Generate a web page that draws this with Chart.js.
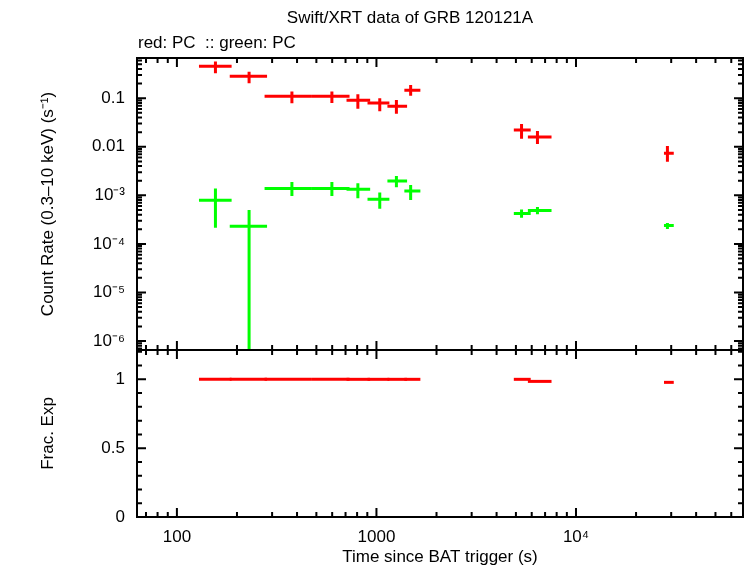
<!DOCTYPE html>
<html>
<head>
<meta charset="utf-8">
<script src="https://cdn.jsdelivr.net/npm/chart.js@4.4.0/dist/chart.umd.min.js"></script>
<style>
  html, body { margin: 0; padding: 0; background: #fff; }
  #wrap { position: relative; width: 746px; height: 568px; }
  #wrap canvas { position: absolute; left: 0; top: 0; }
</style>
</head>
<body>
<div id="wrap">
  <canvas id="rateChart" width="746" height="568"></canvas>
  <canvas id="expChart" width="746" height="568"></canvas>
</div>
<script>
// time bins (s since BAT trigger), shared by both bands
const binTime = [156, 230, 377, 598, 807, 1039, 1259, 1484, 5335, 6410, 28720];
const binLo   = [129, 184, 275, 475, 708, 902, 1135, 1380, 4880, 5740, 27600];
const binHi   = [188, 283, 475, 733, 930, 1161, 1424, 1660, 5930, 7540, 30900];

// red: PC count rate and limits
const redRate = [0.457, 0.284, 0.110, 0.110, 0.091, 0.080, 0.068, 0.146, 0.0222, 0.0159, 0.00734];
const redLo   = [0.327, 0.204, 0.079, 0.080, 0.061, 0.054, 0.048, 0.113, 0.0147, 0.0114, 0.00493];
const redHi   = [0.569, 0.353, 0.137, 0.138, 0.121, 0.100, 0.092, 0.188, 0.0295, 0.0212, 0.0104];

// green: PC count rate and limits (2nd point's lower limit runs off the axis)
const greenRate = [7.9e-4, 2.3e-4, 1.39e-3, 1.39e-3, 1.33e-3, 8.3e-4, 1.97e-3, 1.23e-3, 4.25e-4, 4.9e-4, 2.4e-4];
const greenLo   = [2.15e-4, 1e-9, 9.7e-4, 9.7e-4, 8.7e-4, 5.3e-4, 1.46e-3, 8.0e-4, 3.45e-4, 4.1e-4, 2.02e-4];
const greenHi   = [1.39e-3, 5.0e-4, 1.88e-3, 1.88e-3, 1.77e-3, 1.15e-3, 2.5e-3, 1.63e-3, 5.14e-4, 5.74e-4, 2.69e-4];

// fractional exposure (red bins)
const fracExp = [1, 1, 1, 1, 1, 1, 1, 1, 1, 0.985, 0.978];

// tick labels
const xTickValues = [100, 1000, 10000];
const xTickLabels = ['100', '1000', '10⁴'];
const rateTickValues = [1e-6, 1e-5, 1e-4, 1e-3, 0.01, 0.1];
const rateTickLabels = ['10⁻⁶', '10⁻⁵', '10⁻⁴', '10⁻³', '0.01', '0.1'];
const expTickValues = [0, 0.5, 1];
const expTickLabels = ['0', '0.5', '1'];

const titleText = 'Swift/XRT data of GRB 120121A';
const subText = 'red: PC  :: green: PC';

const FONT = 'Liberation Sans, Arial, Helvetica, sans-serif';

// minor tick positions for log axes
function logMinors(lo, hi) {
  const out = [];
  for (let e = Math.floor(Math.log10(lo)); e <= Math.ceil(Math.log10(hi)); e++) {
    for (let m = 1; m < 10; m++) {
      const v = m * Math.pow(10, e);
      if (v >= lo && v <= hi) out.push({ v, major: m === 1 });
    }
  }
  return out;
}

// gnuplot style frame with inward ticks on all sides + error crosses
const gnuFrame = {
  id: 'gnuFrame',
  afterDatasetsDraw(chart) {
    const { ctx, chartArea: a, scales } = chart;
    ctx.save();
    ctx.beginPath();
    ctx.rect(a.left, a.top, a.right - a.left, a.bottom - a.top);
    ctx.clip();
    ctx.lineWidth = 3;
    ctx.lineCap = 'butt';
    chart.data.datasets.forEach(ds => {
      ctx.strokeStyle = ds.borderColor;
      ds.data.forEach((p, i) => {
        const y = scales.y.getPixelForValue(p.y);
        ctx.beginPath();
        ctx.moveTo(scales.x.getPixelForValue(ds.xLo[i]), y);
        ctx.lineTo(scales.x.getPixelForValue(ds.xHi[i]), y);
        if (ds.yLo) {
          const x = scales.x.getPixelForValue(p.x);
          ctx.moveTo(x, scales.y.getPixelForValue(ds.yLo[i]));
          ctx.lineTo(x, scales.y.getPixelForValue(ds.yHi[i]));
        }
        ctx.stroke();
      });
    });
    ctx.restore();
  },
  afterDraw(chart, args, opts) {
    const { ctx, chartArea: a, scales } = chart;
    ctx.save();
    ctx.strokeStyle = '#000';
    ctx.lineWidth = 2;
    ctx.beginPath();
    opts.xTicks.forEach(t => {
      const x = scales.x.getPixelForValue(t.v);
      const len = t.major ? 9 : 5;
      ctx.moveTo(x, a.top); ctx.lineTo(x, a.top + len);
      ctx.moveTo(x, a.bottom); ctx.lineTo(x, a.bottom - len);
    });
    opts.yTicks.forEach(t => {
      const y = scales.y.getPixelForValue(t.v);
      const len = t.major ? 9 : 5;
      ctx.moveTo(a.left, y); ctx.lineTo(a.left + len, y);
      ctx.moveTo(a.right, y); ctx.lineTo(a.right - len, y);
    });
    ctx.stroke();
    ctx.lineWidth = 2;
    ctx.strokeRect(a.left, a.top, a.right - a.left, a.bottom - a.top);
    if (opts.texts) {
      ctx.fillStyle = '#000';
      ctx.font = '17px ' + FONT;
      ctx.textBaseline = 'middle';
      ctx.textAlign = 'center';
      ctx.fillText(titleText, 410, 18);
      ctx.textAlign = 'left';
      ctx.fillText(subText, 138, 43);
    }
    ctx.restore();
  }
};

const xMin = 63.1, xMax = 68700;
const xTicks = logMinors(xMin, xMax);

function yAxis(min, max, type, values, labels, title) {
  return {
    type, min, max,
    afterFit(s) { s.width = 99; },
    afterBuildTicks(s) { s.ticks = values.map(v => ({ value: v })); },
    grid: { display: false, drawTicks: false },
    border: { display: false },
    ticks: {
      autoSkip: false, padding: 12, color: '#000',
      font: { family: FONT, size: 17 },
      callback: (v, i) => labels[i]
    },
    title: { display: true, text: title, color: '#000', padding: 0, font: { family: FONT, size: 17 } }
  };
}

new Chart(document.getElementById('rateChart'), {
  type: 'scatter',
  data: {
    datasets: [
      { label: 'red: PC', data: binTime.map((t, i) => ({ x: t, y: redRate[i] })),
        xLo: binLo, xHi: binHi, yLo: redLo, yHi: redHi, borderColor: '#ff0000', pointRadius: 0 },
      { label: 'green: PC', data: binTime.map((t, i) => ({ x: t, y: greenRate[i] })),
        xLo: binLo, xHi: binHi, yLo: greenLo, yHi: greenHi, borderColor: '#00ff00', pointRadius: 0 }
    ]
  },
  options: {
    responsive: false,
    animation: false,
    layout: { padding: { left: 38, right: 3, top: 58, bottom: 218 } },
    plugins: {
      legend: { display: false },
      tooltip: { enabled: false },
      gnuFrame: {
        xTicks,
        yTicks: logMinors(6.53e-7, 0.674),
        texts: true
      }
    },
    scales: {
      x: { type: 'logarithmic', min: xMin, max: xMax, display: false },
      y: yAxis(6.53e-7, 0.674, 'logarithmic', rateTickValues, rateTickLabels, 'Count Rate (0.3–10 keV) (s⁻¹)')
    }
  },
  plugins: [gnuFrame]
});

const expMinor = [];
for (let k = 0; k <= 12; k++) expMinor.push({ v: k / 10, major: k % 5 === 0 });

new Chart(document.getElementById('expChart'), {
  type: 'scatter',
  data: {
    datasets: [
      { label: 'red: PC', data: binTime.map((t, i) => ({ x: t, y: fracExp[i] })),
        xLo: binLo, xHi: binHi, borderColor: '#ff0000', pointRadius: 0 }
    ]
  },
  options: {
    responsive: false,
    animation: false,
    layout: { padding: { left: 38, right: 3, top: 350, bottom: 0 } },
    plugins: {
      legend: { display: false },
      tooltip: { enabled: false },
      gnuFrame: { xTicks, yTicks: expMinor, texts: false }
    },
    scales: {
      x: {
        type: 'logarithmic', min: xMin, max: xMax,
        afterFit(s) { s.height = 51; },
        afterBuildTicks(s) { s.ticks = xTickValues.map(v => ({ value: v })); },
        grid: { display: false, drawTicks: false },
        border: { display: false },
        ticks: {
          autoSkip: false, maxRotation: 0, padding: 10, color: '#000',
          font: { family: FONT, size: 17 },
          callback: (v, i) => xTickLabels[i]
        },
        title: { display: true, text: 'Time since BAT trigger (s)', color: '#000', padding: 0, font: { family: FONT, size: 17 } }
      },
      y: yAxis(0, 1.213, 'linear', expTickValues, expTickLabels, 'Frac. Exp')
    }
  },
  plugins: [gnuFrame]
});
</script>
</body>
</html>
